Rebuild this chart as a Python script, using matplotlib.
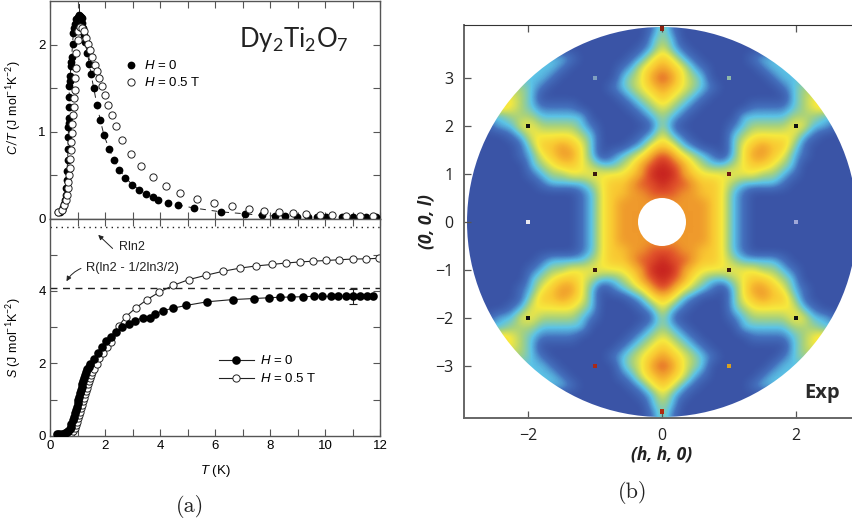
import matplotlib
matplotlib.use("Agg")
import matplotlib.pyplot as plt
import numpy as np
from matplotlib.colors import LinearSegmentedColormap
from matplotlib.patches import Ellipse

plt.rcParams['font.family'] = 'Liberation Sans'
plt.rcParams['mathtext.fontset'] = 'custom'
plt.rcParams['mathtext.rm'] = 'Lato'
plt.rcParams['mathtext.it'] = 'Liberation Sans:italic'

# heat capacity, H = 0
ct0_t = [0.3, 0.36, 0.42, 0.48, 0.52, 0.55, 0.57, 0.58, 0.6, 0.62, 0.64, 0.655, 0.67, 0.67, 0.68, 0.69, 0.69, 0.7, 0.7, 0.72, 0.74, 0.75,
         0.77, 0.79, 0.82, 0.85, 0.88, 0.91, 0.95, 1.0, 1.04, 1.07, 1.09, 1.12, 1.15, 1.18, 1.21, 1.24, 1.27, 1.36, 1.43, 1.49, 1.59,
         1.71, 1.83, 1.96, 2.15, 2.33, 2.52, 2.74, 2.99, 3.25, 3.49, 3.73, 3.94,
         4.28, 4.65, 5.25, 6.2, 7.09, 7.72, 8.18, 8.55, 8.97, 9.39, 9.7, 10.05, 10.6, 11.0, 11.5, 11.85]
ct0_c = [0.07, 0.08, 0.1, 0.13, 0.17, 0.21, 0.27, 0.35, 0.44, 0.55, 0.67, 0.8, 0.94, 1.05, 1.1, 1.16, 1.28, 1.4, 1.52, 1.58, 1.64, 1.75,
         1.8, 1.86, 2.01, 2.13, 2.19, 2.24, 2.29, 2.32, 2.33, 2.335, 2.33, 2.32, 2.3, 2.25, 2.19, 2.11, 2.03, 1.9, 1.78, 1.66, 1.5,
         1.3, 1.13, 0.96, 0.8, 0.67, 0.56, 0.47, 0.39, 0.33, 0.28, 0.245, 0.21,
         0.18, 0.155, 0.12, 0.077, 0.054, 0.035, 0.03, 0.027, 0.02, 0.015, 0.015, 0.015, 0.015, 0.015, 0.015, 0.015]
# heat capacity, H = 0.5 T
ct5_t = [0.3, 0.42, 0.5, 0.57, 0.61, 0.64, 0.67, 0.69, 0.72, 0.74, 0.75, 0.76, 0.79, 0.81, 0.84, 0.86, 0.87, 0.9, 0.92, 0.93,
         0.96, 1.0, 1.03, 1.09, 1.18, 1.25, 1.31, 1.38, 1.45, 1.54, 1.64, 1.71, 1.79, 1.88, 1.99, 2.1, 2.24, 2.39, 2.62,
         2.95, 3.31, 3.75, 4.22, 4.74, 5.35, 5.96, 6.6, 7.22, 7.79, 8.33, 8.84, 9.32, 9.8, 10.27, 10.75, 11.26, 11.73]
ct5_c = [0.07, 0.1, 0.15, 0.21, 0.27, 0.35, 0.42, 0.5, 0.575, 0.68, 0.79, 0.88, 0.98, 1.09, 1.19, 1.28, 1.38, 1.48, 1.61, 1.73,
         1.9, 2.05, 2.15, 2.2, 2.19, 2.15, 2.07, 2.01, 1.94, 1.86, 1.77, 1.7, 1.62, 1.52, 1.415, 1.3, 1.185, 1.06, 0.9,
         0.74, 0.6, 0.475, 0.375, 0.295, 0.226, 0.176, 0.138, 0.107, 0.088, 0.069, 0.065, 0.05, 0.038, 0.035, 0.03, 0.027, 0.027]
# entropy, H = 0
s0_t = [0.24, 0.32, 0.42, 0.55, 0.62, 0.67, 0.71, 0.75, 0.78, 0.82, 0.86, 0.9, 0.93, 0.97, 1.0, 1.03, 1.06, 1.09, 1.12, 1.15, 1.18, 1.21, 1.24, 1.27,
        1.31, 1.36, 1.4, 1.45, 1.61, 1.76, 1.9, 2.05, 2.22,
        2.41, 2.63, 2.87, 3.1, 3.37, 3.64, 3.83, 4.1, 4.46, 4.96, 5.72, 6.64, 7.42, 7.95, 8.36, 8.76, 9.19, 9.59, 9.9,
        10.2, 10.48, 10.77, 11.03, 11.28, 11.52, 11.74]
s0_s = [0.04, 0.045, 0.05, 0.065, 0.09, 0.13, 0.18, 0.25, 0.33, 0.43, 0.52, 0.62, 0.71, 0.8, 0.9, 0.99, 1.08, 1.17, 1.26, 1.35, 1.43, 1.52, 1.6, 1.68,
        1.76, 1.84, 1.91, 1.98, 2.13, 2.29, 2.44, 2.61, 2.74,
        2.87, 2.99, 3.09, 3.18, 3.26, 3.26, 3.37, 3.45, 3.52, 3.6, 3.7, 3.76, 3.79, 3.81, 3.825, 3.83, 3.84, 3.85, 3.85,
        3.85, 3.85, 3.85, 3.85, 3.85, 3.85, 3.85]
# entropy, H = 0.5 T
s5_t = [0.6, 0.76, 0.85, 0.91, 0.95, 0.99, 1.03, 1.07, 1.1, 1.14, 1.17, 1.21, 1.24, 1.27, 1.3, 1.33, 1.37, 1.41, 1.45, 1.49, 1.54, 1.6, 1.7, 1.79, 1.94, 2.08, 2.21, 2.5, 2.76, 3.12,
        3.53, 3.96, 4.47, 5.04, 5.66, 6.28, 6.91, 7.5, 8.06, 8.58, 9.08, 9.56, 10.03, 10.5, 11.0, 11.49, 11.95]
s5_s = [0.02, 0.065, 0.13, 0.2, 0.29, 0.39, 0.48, 0.57, 0.66, 0.76, 0.86, 0.96, 1.05, 1.14, 1.23, 1.33, 1.42, 1.51, 1.6, 1.68, 1.76, 1.84, 1.98, 2.14, 2.29, 2.44, 2.6, 3.03, 3.29, 3.53,
        3.76, 3.96, 4.15, 4.31, 4.43, 4.54, 4.63, 4.69, 4.73, 4.77, 4.8, 4.82, 4.84, 4.86, 4.88, 4.885, 4.9]

rln2 = 5.76
rln2_pauling = 4.07

# scattering intensity in one quadrant, read off on a 1-9 colour scale
# rows l = 0, 0.2 ... 4, columns h = 0, 0.15 ... 3
quadrant = [
    [7, 7, 7, 7, 7, 6, 5, 3, 2, 1, 1, 1, 1, 1, 1, 1, 1, 1, 1, 1, 1],
    [7, 7, 7, 7, 7, 6, 5, 3, 2, 1, 1, 1, 1, 1, 1, 1, 1, 1, 1, 1, 1],
    [7, 7, 7, 7, 7, 6, 5, 3, 2, 1, 1, 1, 1, 1, 1, 1, 1, 1, 1, 1, 1],
    [8, 8, 7, 7, 6, 6, 5, 3, 2, 1, 1, 1, 1, 1, 1, 1, 1, 1, 1, 1, 1],
    [9, 8, 8, 7, 6, 6, 5, 4, 3, 3, 3, 3, 2, 1, 1, 1, 1, 1, 1, 1, 1],
    [9, 9, 7, 6, 5, 5, 5, 5, 5, 5, 4, 4, 3, 2, 1, 1, 1, 1, 1, 1, 1],
    [9, 8, 7, 5, 4, 3, 3, 4, 5, 6, 6, 5, 4, 3, 1, 1, 1, 1, 1, 1, 1],
    [8, 7, 5, 4, 3, 2, 1, 3, 5, 7, 7, 6, 5, 3, 2, 1, 1, 1, 1, 1, 1],
    [6, 5, 3, 2, 1, 1, 1, 3, 5, 6, 7, 6, 6, 4, 2, 1, 1, 1, 1, 1, 1],
    [5, 3, 2, 1, 1, 1, 1, 3, 4, 5, 5, 5, 5, 5, 3, 2, 1, 1, 1, 1, 1],
    [4, 2, 1, 1, 1, 1, 1, 2, 3, 4, 4, 4, 4, 5, 5, 3, 3, 2, 1, 1, 1],
    [4, 3, 2, 1, 1, 1, 1, 1, 3, 3, 3, 3, 3, 4, 4, 4, 3, 3, 3, 3, 3],
    [5, 4, 3, 2, 1, 1, 1, 1, 1, 2, 2, 2, 2, 3, 4, 5, 6, 5, 5, 5, 5],
    [6, 5, 4, 3, 2, 1, 1, 1, 1, 1, 1, 1, 1, 3, 4, 5, 5, 5, 5, 5, 5],
    [7, 6, 5, 4, 3, 2, 1, 1, 1, 1, 1, 1, 2, 3, 4, 4, 4, 4, 4, 4, 4],
    [8, 7, 5, 4, 3, 1, 1, 1, 1, 1, 1, 2, 3, 3, 3, 3, 3, 3, 3, 3, 3],
    [7, 6, 5, 3, 2, 1, 1, 1, 1, 1, 2, 3, 3, 3, 3, 3, 3, 3, 3, 3, 3],
    [6, 5, 3, 2, 1, 1, 1, 1, 1, 2, 3, 3, 3, 3, 3, 3, 3, 3, 3, 3, 3],
    [5, 3, 2, 1, 1, 1, 1, 1, 1, 1, 1, 1, 1, 1, 1, 1, 1, 1, 1, 1, 1],
    [4, 3, 1, 1, 1, 1, 1, 1, 1, 1, 1, 1, 1, 1, 1, 1, 1, 1, 1, 1, 1],
    [4, 2, 1, 1, 1, 1, 1, 1, 1, 1, 1, 1, 1, 1, 1, 1, 1, 1, 1, 1, 1],
]
scale_colors = ['#3a54a6', '#4470bd', '#5cc3e6', '#a8d27c', '#f6e93e', '#f9c832', '#ef9a2c', '#e0512a', '#c6211f']

# sharp Bragg spots
spot_h = [-1, 1, -2, 2, -1, 1, -2, 2, 0, 0, 1, -1, 1, -1, 2, -2]
spot_l = [1, 1, 2, 2, -1, -1, -2, -2, 4.03, -3.95, 3, 3, -3, -3, 0, 0]
spot_c = ['#3a1a10', '#6e1a12', '#111111', '#111111', '#3a1a10', '#3a1a10', '#111111', '#111111',
          '#8a2010', '#b02a10', '#8fb8a8', '#7f9fc0', '#d8a020', '#a82a18', '#9fa8d8', '#e8e8f0']

W, H = 852, 524
fig = plt.figure(figsize=(W / 100, H / 100), dpi=100)


def px_axes(left, top, right, bottom):
    return fig.add_axes([left / W, 1 - bottom / H, (right - left) / W, (bottom - top) / H])


edge = '#555555'
ax1 = px_axes(50, 1, 380, 218.5)
ax2 = px_axes(50, 218.5, 380, 435.7)
for ax in (ax1, ax2):
    ax.set_xlim(0, 12)
    ax.set_xticks(np.arange(0, 13, 2))
    ax.set_xticks(np.arange(1, 12, 2), minor=True)
    ax.tick_params(which='both', direction='in', top=True, right=True, color=edge, width=0.8, labelsize=9.5, pad=3, length=5)
    for s in ax.spines.values():
        s.set_color(edge)
        s.set_linewidth(1.0)

# C/T panel
ax1.set_ylim(0, 2.5)
ax1.set_yticks([0, 1, 2])
ax1.set_yticks([0.5, 1.5], minor=True)
ax1.tick_params(axis='x', labelbottom=False)
ax1.plot(ct0_t, ct0_c, color='#222222', lw=0.7, ls=(0, (6, 6)), zorder=1)
ax1.plot([1.07, 1.07], [2.39, 2.47], color='#222222', lw=0.7, zorder=1)
ax1.plot(ct0_t, ct0_c, 'o', color='black', ms=5.6, mew=0, label='$H$ = 0', clip_on=False, zorder=3)
ax1.plot(ct5_t, ct5_c, 'o', mfc='white', mec='#222222', mew=0.7, ms=5.2, label='$H$ = 0.5 T', clip_on=False, zorder=4)
ax1.set_ylabel('$C/T$ (J mol$^{-1}$K$^{-2}$)', fontsize=9)
ax1.yaxis.set_label_coords(-0.083, 0.508)
ax1.legend(loc='upper left', bbox_to_anchor=(0.19, 0.787), frameon=False, fontsize=9.5, numpoints=1,
           handlelength=1, handletextpad=0.5, labelspacing=0.3)
fig.text(239 / W, 1 - 47.5 / H, 'Dy$_2$Ti$_2$O$_7$', family='Lato', fontsize=18.5, color='#222222', va='baseline')

# entropy panel
ax2.set_ylim(0, 6)
ax2.set_yticks([0, 2, 4])
ax2.set_yticks([1, 3, 5], minor=True)
ax2.axhline(rln2, color='#222222', lw=1, ls=(0, (1, 3)))
ax2.axhline(rln2_pauling, color='#222222', lw=1, ls=(0, (5, 4)))
ax2.plot(s0_t, s0_s, '-o', color='#222222', mfc='black', mec='black', mew=0, ms=6.2, lw=0.8, label='$H$ = 0', zorder=3)
ax2.plot(s5_t, s5_s, '-o', color='#222222', mfc='white', mec='#222222', mew=0.7, ms=5.2, lw=0.8, label='$H$ = 0.5 T', zorder=2)
ax2.errorbar([11.0], [3.85], yerr=[0.2], color='#222222', lw=0.8, capsize=3, capthick=0.8, zorder=2)
ax2.set_xlabel('$T$ (K)', fontsize=9.5, labelpad=8)
ax2.set_ylabel('$S$ (J mol$^{-1}$K$^{-2}$)', fontsize=9)
ax2.yaxis.set_label_coords(-0.083, 0.45)
ax2.legend(loc='upper left', bbox_to_anchor=(0.475, 0.43), frameon=False, fontsize=9.5, numpoints=1,
           handlelength=2.7, handletextpad=0.4, labelspacing=0.4)
ax2.text(2.52, 5.21, 'Rln2', fontsize=9, va='center', color='#222222')
ax2.annotate('', xy=(1.68, 5.6), xytext=(2.35, 5.12), arrowprops=dict(arrowstyle='-|>', color='#222222', lw=0.7, mutation_scale=7))
ax2.text(1.3, 4.63, 'R(ln2 - 1/2ln3/2)', fontsize=9.3, va='center', color='#222222')
ax2.annotate('', xy=(0.55, 4.2), xytext=(1.22, 4.65),
             arrowprops=dict(arrowstyle='-|>', color='#222222', lw=0.7, mutation_scale=7, connectionstyle='arc3,rad=0.2'))

# scattering map
ax3 = px_axes(463.5, 25, 852, 418)
q = np.array(quadrant, dtype=float)
right_half = np.vstack([q[:0:-1], q])
full = np.hstack([right_half[:, :0:-1], right_half])
cmap = LinearSegmentedColormap.from_list('exp', scale_colors)
im = ax3.imshow(full, origin='lower', extent=(-3.075, 3.075, -4.1, 4.1), aspect='auto', cmap=cmap, vmin=1, vmax=9,
                interpolation='bicubic')
disc = Ellipse((0, 0), 2 * 195 / 67, 2 * 195 / 48, transform=ax3.transData)
im.set_clip_path(disc)
ax3.add_patch(Ellipse((0, 0), 2 * 24 / 67, 2 * 24 / 48, fc='white', ec='none', zorder=2))
ax3.scatter(spot_h, spot_l, c=spot_c, s=12, marker='s', lw=0, zorder=3)
ax3.set_xlim(-2.963, 2.836)
ax3.set_ylim(-4.083, 4.104)
ax3.set_xticks([-2, 0, 2], ['\u22122', '0', '2'])
ax3.set_yticks([-3, -2, -1, 0, 1, 2, 3], ['\u22123', '\u22122', '\u22121', '0', '1', '2', '3'])
ax3.tick_params(direction='in', top=True, length=5, width=0.9, color=edge, labelsize=11.5, pad=7)
for lab in ax3.get_xticklabels() + ax3.get_yticklabels():
    lab.set_family('Open Sans')
    lab.set_color('#222222')
ax3.spines['right'].set_visible(False)
ax3.spines['top'].set_color('#333333')
ax3.spines['top'].set_linewidth(0.8)
for side in ('left', 'bottom'):
    ax3.spines[side].set_color('#666666')
    ax3.spines[side].set_linewidth(1.4)
ax3.text(822 / W, 1 - 393 / H, 'Exp', transform=fig.transFigure, family='Open Sans', fontweight='bold', fontsize=14.5,
         ha='center', va='center', color='#2a2a2a')
fig.text(661.5 / W, 1 - 454 / H, '(h, h, 0)', family='Open Sans', style='italic', fontweight='bold', fontsize=12.5,
         ha='center', va='center', color='#222222')
fig.text(427 / W, 1 - 222 / H, '(0, 0, l)', family='Open Sans', style='italic', fontweight='bold', fontsize=12.5,
         rotation=90, ha='center', va='center', color='#222222')

# sub-captions
fig.text(190 / W, 1 - 506 / H, '(a)', family='cmr10', fontsize=16, ha='center', va='center', color='#222222')
fig.text(633 / W, 1 - 492 / H, '(b)', family='cmr10', fontsize=16, ha='center', va='center', color='#222222')

fig.savefig('out.png', dpi=100)
